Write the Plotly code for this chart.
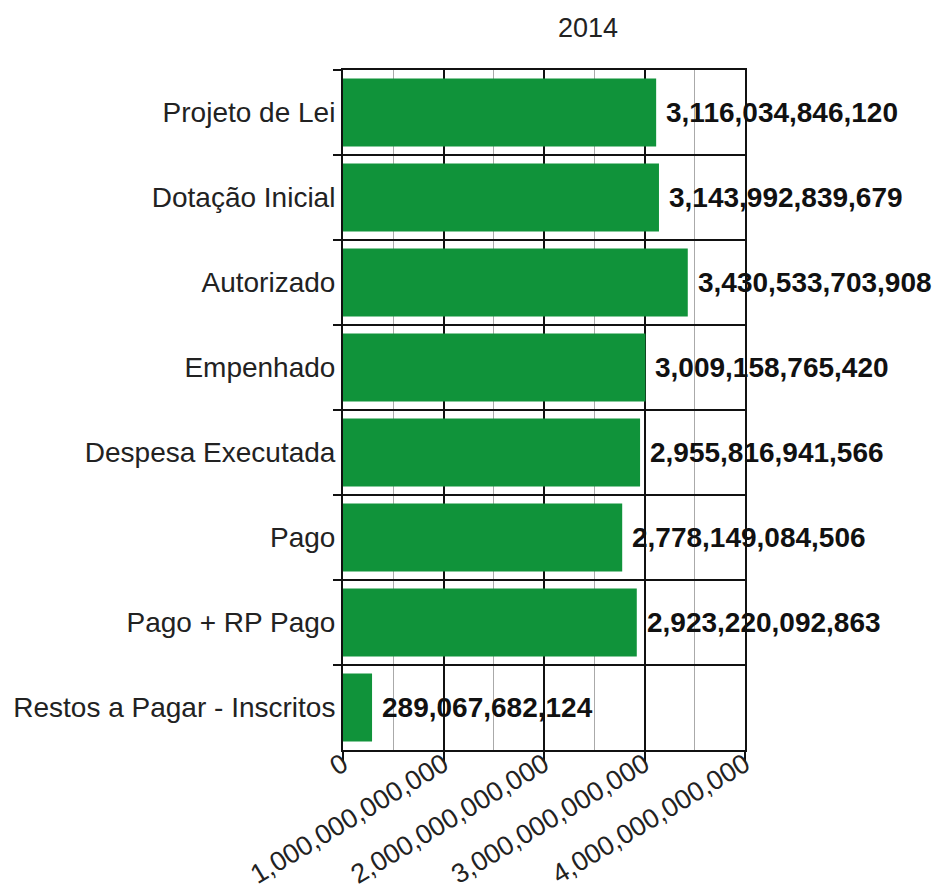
import plotly.graph_objects as go

# Budget execution stages for 2014 (R$)
categories = [
    "Projeto de Lei",
    "Dotação Inicial",
    "Autorizado",
    "Empenhado",
    "Despesa Executada",
    "Pago",
    "Pago + RP Pago",
    "Restos a Pagar - Inscritos",
]
values = [
    3116034846120,
    3143992839679,
    3430533703908,
    3009158765420,
    2955816941566,
    2778149084506,
    2923220092863,
    289067682124,
]
title_text = "2014"
x_ticks = [0, 1e12, 2e12, 3e12, 4e12]

bar_color = "#10933A"
text_color = "#222222"
font_family = "Liberation Sans, Arial, sans-serif"

fig = go.Figure(
    go.Bar(
        x=values,
        y=categories,
        orientation="h",
        marker=dict(color=bar_color, line=dict(width=0)),
        hoverinfo="skip",
    )
)

# Value labels just past the end of each bar
for cat, val in zip(categories, values):
    fig.add_annotation(
        x=val,
        y=cat,
        xref="x",
        yref="y",
        text=f"{val:,}",
        showarrow=False,
        xanchor="left",
        yanchor="middle",
        xshift=8,
        font=dict(family=font_family, size=28, color="#111111", weight="bold"),
    )

fig.update_layout(
    width=933,
    height=893,
    paper_bgcolor="white",
    plot_bgcolor="white",
    margin=dict(l=343, r=188, t=70, b=143),
    bargap=0.2,
    showlegend=False,
    font=dict(family=font_family, color=text_color),
    title=dict(
        text=title_text,
        x=588 / 933,
        xref="container",
        xanchor="center",
        y=1 - 28 / 893,
        yref="container",
        yanchor="middle",
        font=dict(family=font_family, size=27, color=text_color),
    ),
)

fig.update_xaxes(
    range=[0, 4e12],
    tickmode="array",
    tickvals=x_ticks,
    tickformat=",.0f",
    tickangle=-31,
    tickfont=dict(family=font_family, size=27, color=text_color),
    ticklabelstandoff=-24,
    showgrid=True,
    gridcolor="#111111",
    gridwidth=2,
    minor=dict(dtick=5e11, tick0=0, showgrid=True, gridcolor="#aaaaaa", gridwidth=1),
    showline=True,
    linecolor="#111111",
    linewidth=2,
    mirror=True,
    ticks="outside",
    ticklen=10,
    tickwidth=2,
    tickcolor="#111111",
    zeroline=False,
    automargin=False,
    fixedrange=True,
)

fig.update_yaxes(
    categoryorder="array",
    categoryarray=categories,
    autorange="reversed",
    tickson="boundaries",
    showgrid=True,
    gridcolor="#111111",
    gridwidth=2,
    showline=True,
    linecolor="#111111",
    linewidth=2,
    mirror=True,
    ticks="outside",
    ticklen=8,
    tickwidth=2,
    tickcolor="#111111",
    tickfont=dict(family=font_family, size=28, color=text_color),
    automargin=False,
    fixedrange=True,
)

fig.write_html("out.html")
